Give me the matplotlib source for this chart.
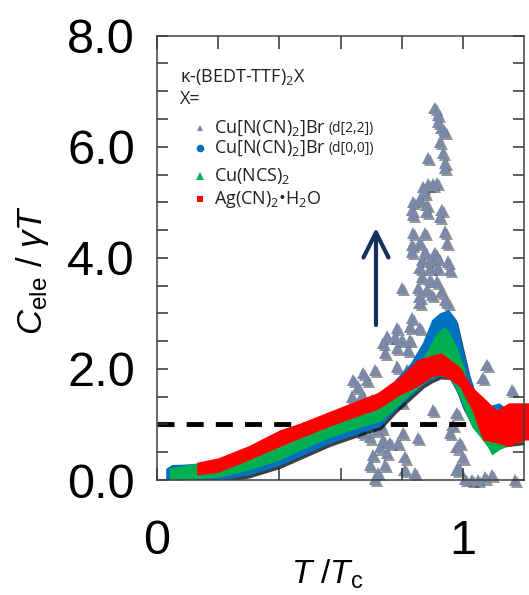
import numpy as np
import matplotlib
matplotlib.use("Agg")
import matplotlib.pyplot as plt
import matplotlib.patheffects as pe

plt.rcParams["font.family"] = ["Liberation Sans", "DejaVu Sans"]
plt.rcParams["mathtext.fontset"] = "custom"
plt.rcParams["mathtext.rm"] = "Liberation Sans"
plt.rcParams["mathtext.it"] = "Liberation Sans:italic"
plt.rcParams["mathtext.sf"] = "Open Sans"

# kappa-(BEDT-TTF)2 Cu[N(CN)2]Br d[2,2]  (scattered points)
tri_t = [0.908, 0.918, 0.918, 0.931, 0.941, 0.925, 0.935, 0.886, 0.941, 0.941,
         0.869, 0.886, 0.902, 0.915, 0.876, 0.837, 0.859, 0.882, 0.882, 0.931,
         0.833, 0.837, 0.925, 0.837, 0.876, 0.941, 0.948, 0.833, 0.859, 0.833,
         0.876, 0.908, 0.866, 0.892, 0.918, 0.951, 0.859, 0.892, 0.918, 0.958,
         0.866, 0.892, 0.915, 0.801, 0.853, 0.882, 0.931, 0.859, 0.899, 0.941,
         0.951, 0.859, 0.833, 0.784, 0.827, 0.859, 0.752, 0.739, 0.778, 0.801,
         0.827, 0.784, 0.745, 0.820, 0.784, 0.817, 0.794, 0.712, 0.673, 0.641,
         0.686, 0.657, 0.637, 0.670, 0.703, 0.686, 0.778, 0.801, 0.902, 0.706,
         0.719, 0.735, 0.673, 0.804, 0.696, 0.739, 0.853, 0.729, 0.761, 0.788,
         0.706, 0.752, 0.810, 0.696, 0.745, 0.722, 0.810, 0.843, 0.712, 0.980,
         0.980, 1.078, 1.065, 1.160, 0.980, 0.967, 0.958, 0.990, 1.000, 0.984,
         1.007, 1.029, 1.049, 1.072, 1.095, 1.170]
tri_c = [6.70, 6.58, 6.45, 6.34, 6.27, 6.09, 5.89, 5.80, 5.71, 5.62,
         5.28, 5.32, 5.32, 5.35, 5.17, 5.01, 5.05, 4.95, 4.83, 4.86,
         4.86, 4.77, 4.74, 4.45, 4.45, 4.47, 4.27, 4.23, 4.27, 4.11,
         4.11, 4.09, 3.96, 3.96, 4.00, 3.93, 3.82, 3.82, 3.82, 3.78,
         3.66, 3.60, 3.57, 3.46, 3.46, 3.42, 3.39, 3.30, 3.33, 3.24,
         3.19, 3.19, 2.92, 2.74, 2.76, 2.74, 2.58, 2.47, 2.58, 2.52,
         2.52, 2.38, 2.29, 2.34, 2.04, 1.98, 1.68, 1.98, 1.93, 1.80,
         1.80, 1.68, 1.50, 1.53, 1.44, 1.21, 1.53, 1.41, 1.26, 1.05,
         0.90, 0.95, 0.85, 0.85, 0.77, 0.72, 0.76, 0.59, 0.67, 0.67,
         0.45, 0.49, 0.41, 0.27, 0.27, 0.13, 0.18, 0.13, 0.03, 0.59,
         0.18, 2.07, 1.84, 1.62, 1.21, 0.99, 0.85, 0.67, 0.41, 0.23,
         0.02, 0.00, 0.00, 0.05, 0.09, 0.00]

# Cu[N(CN)2]Br d[0,0]  (dense band: lower / upper edge)
blue_t = [0.03, 0.05, 0.1, 0.2, 0.3, 0.4, 0.47, 0.565, 0.686, 0.73, 0.78, 0.83, 0.87,
          0.9, 0.925, 0.955, 0.98, 1.0, 1.02, 1.045, 1.07, 1.1, 1.12, 1.14, 1.17, 1.2]
blue_hi = [0.2, 0.27, 0.28, 0.33, 0.47, 0.62, 0.78, 0.98, 1.2, 1.35, 1.8, 2.1, 2.47,
           2.88, 3.0, 3.06, 2.88, 2.4, 1.93, 1.5, 1.3, 1.35, 1.38, 1.3, 1.2, 1.2]
blue_lo = [0.02, -0.02, -0.03, -0.01, 0.08, 0.25, 0.42, 0.65, 0.88, 0.95, 1.25, 1.5, 1.7,
           1.8, 1.86, 1.85, 1.6, 1.3, 1.1, 0.9, 0.72, 0.62, 0.62, 0.64, 0.66, 0.68]

# Cu(NCS)2
green_t = [0.04, 0.07, 0.13, 0.2, 0.3, 0.4, 0.47, 0.565, 0.686, 0.73, 0.78, 0.83, 0.87, 0.89,
           0.915, 0.94, 0.957, 0.98, 1.0, 1.013, 1.03, 1.06, 1.08, 1.095, 1.12, 1.15, 1.2]
green_hi = [0.22, 0.25, 0.3, 0.35, 0.5, 0.7, 0.85, 1.05, 1.3, 1.4, 1.6, 1.9, 2.2, 2.4,
            2.65, 2.76, 2.65, 2.4, 2.1, 1.8, 1.5, 1.2, 1.0, 0.9, 0.95, 1.0, 1.05]
green_lo = [0.0, 0.0, 0.02, 0.05, 0.18, 0.36, 0.54, 0.77, 0.99, 1.05, 1.3, 1.55, 1.75, 1.82,
            1.88, 1.89, 1.85, 1.62, 1.35, 1.15, 0.95, 0.75, 0.6, 0.45, 0.55, 0.62, 0.7]

# Ag(CN)2 H2O
red_t = [0.13, 0.2, 0.3, 0.4, 0.47, 0.575, 0.686, 0.72, 0.794, 0.85, 0.9, 0.93, 0.96,
         0.99, 1.03, 1.065, 1.11, 1.15, 1.2, 1.215]
red_hi = [0.32, 0.40, 0.62, 0.90, 1.03, 1.26, 1.50, 1.57, 1.86, 2.16, 2.25, 2.29, 2.16,
          2.04, 1.68, 1.50, 1.26, 1.39, 1.39, 1.39]
red_lo = [0.09, 0.14, 0.36, 0.60, 0.76, 0.99, 1.21, 1.27, 1.53, 1.68, 1.86, 1.89, 1.80,
          1.68, 1.26, 0.72, 0.67, 0.60, 0.72, 0.72]

ref_level = 1.0
arrow_t = 0.716
arrow_from, arrow_to = 2.79, 4.54

c_tri = "#7a89a8"
c_blue = "#0070c0"
c_green = "#00b050"
c_red = "#ff0000"
c_navy = "#17305e"

fig = plt.figure(figsize=(5.29, 5.95), dpi=100)
ax = fig.add_axes([157 / 529, 115 / 595, 367 / 529, 444.3 / 595])

shadow = [pe.SimplePatchShadow(offset=(1.5, -1.5), shadow_rgbFace="#333333", alpha=0.5), pe.Normal()]
ax.plot(tri_t, tri_c, "^", color=c_tri, ms=9, mew=0, clip_on=False, zorder=1,
        path_effects=shadow)

ax.axhline(ref_level, color="black", lw=3.5, dashes=(3.5, 2.5), zorder=1.5)

ax.fill_between(blue_t, blue_lo, blue_hi, color=c_blue, lw=0, zorder=2,
                path_effects=[pe.SimplePatchShadow(offset=(1, -2), shadow_rgbFace="black", alpha=0.75), pe.Normal()])
ax.fill_between(green_t, green_lo, green_hi, color=c_green, lw=0, zorder=2.1)
ax.fill_between(red_t, red_lo, red_hi, color=c_red, lw=0, zorder=2.2, clip_on=False)

ax.annotate("", xy=(arrow_t, arrow_to), xytext=(arrow_t, arrow_from),
            arrowprops=dict(arrowstyle="->,head_length=0.9,head_width=0.45", lw=3,
                            color=c_navy, shrinkA=0, shrinkB=0, mutation_scale=20))

ax.set_xlim(0, 1.2)
ax.set_ylim(0, 8)
ax.set_xticks([0, 0.2, 0.4, 0.6, 0.8, 1.0], labels=["0", "", "", "", "", "1"])
ax.set_yticks([0, 2, 4, 6, 8], labels=["0.0", "2.0", "4.0", "6.0", "8.0"])
ax.set_yticks(np.arange(0, 8.01, 0.5), minor=True)
ax.tick_params(axis="both", which="both", direction="in", top=True, right=True,
               color="#333333", width=1.1, labelsize=35)
ax.tick_params(axis="x", length=9, pad=28)
ax.tick_params(axis="y", which="both", length=8, pad=16)
for s in ax.spines.values():
    s.set_color("#404040")
    s.set_linewidth(1.1)

ax.set_xlabel(r"$T$ /$T_{\rm c}$", fontsize=24)
ax.xaxis.set_label_coords(0.463, -0.175)
ax.set_ylabel(r"$C_{\rm ele}$ / $\gamma T$", fontsize=25)
ax.yaxis.set_label_coords(-0.29, 0.473)

# legend block
lf = ["Open Sans", "DejaVu Sans"]
tc = "#222222"
ax.text(0.063, 0.907, "κ-(BEDT-TTF)$_\\mathsf{2}$X", transform=ax.transAxes,
        fontsize=13, family=lf, va="center", color=tc)
ax.text(0.063, 0.858, "X=", transform=ax.transAxes, fontsize=13, family=lf,
        va="center", color=tc)
rows = [
    ("Cu[N(CN)$_\\mathsf{2}$]Br", "(d[2,2])", c_tri, "^", 4.5, 0.792),
    ("Cu[N(CN)$_\\mathsf{2}$]Br", "(d[0,0])", c_blue, "o", 5.5, 0.747),
    ("Cu(NCS)$_\\mathsf{2}$", None, c_green, "^", 5.5, 0.684),
    ("Ag(CN)$_\\mathsf{2}$•H$_\\mathsf{2}$O", None, c_red, "s", 5.0, 0.632),
]
for label, extra, col, mk, ms, yy in rows:
    ax.plot([0.118], [yy], mk, color=col, ms=ms, mew=0, transform=ax.transAxes,
            clip_on=False)
    t = ax.text(0.155, yy, label, transform=ax.transAxes, fontsize=13, family=lf,
                va="center", color=tc)
    if extra:
        ax.annotate(extra, xy=(1, 0), xycoords=t, xytext=(2, 1), textcoords="offset points",
                    fontsize=10, family=lf, va="bottom", ha="left", color=tc)

fig.savefig("out.png", dpi=100)
